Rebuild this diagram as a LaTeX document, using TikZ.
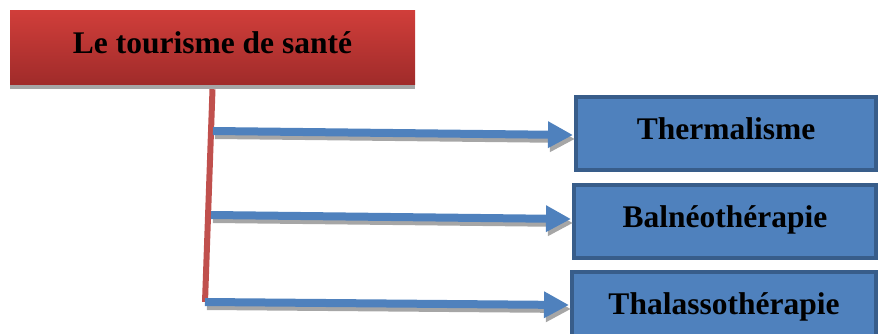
\documentclass[tikz,border=0pt]{standalone}
\usepackage{fontspec}
\setmainfont{Liberation Serif}
\usetikzlibrary{arrows.meta,shadows,calc}

\definecolor{redtop}{RGB}{208,62,58}
\definecolor{redbot}{RGB}{160,43,42}
\definecolor{trunkred}{RGB}{192,80,77}
\definecolor{bluefill}{RGB}{79,129,189}
\definecolor{blueline}{RGB}{56,93,138}
\definecolor{shadowgray}{RGB}{166,166,166}

\begin{document}
\begin{tikzpicture}[x=1pt,y=1pt,
    every node/.style={font=\bfseries\fontsize{31.5}{36}\selectfont,text height=22pt,text depth=10pt},
    topbox/.style={rectangle,inner sep=0pt,minimum width=405pt,minimum height=73pt,
      top color=redtop,bottom color=redbot,
      drop shadow={shadow xshift=0pt,shadow yshift=-5pt,fill=shadowgray,opacity=1}},
    kindbox/.style={rectangle,draw=blueline,line width=4pt,fill=bluefill,inner sep=0pt,
      minimum height=73pt},
    link/.style={line width=8pt,-{Triangle[length=25pt,width=25pt]}}]
  \useasboundingbox (0,0) rectangle (880,333);

  \node[topbox] (sante) at (212.5,285.5) {Le tourisme de santé};

  \node[kindbox,minimum width=300pt] (therm) at (726,199.5) {Thermalisme};
  \node[kindbox,minimum width=302pt] (balneo) at (725,112) {Balnéothérapie};
  \node[kindbox,minimum width=304pt] (thalasso) at (724,24.5) {Thalassothérapie};

  % points on the trunk
  \coordinate (c1) at (213,202);
  \coordinate (c2) at (211,118);
  \coordinate (c3) at (205,31);

  \draw[trunkred,line width=6pt] (sante.south) ++(0,-5) -- (c3);

  % shadows first, then the blue arrows
  \draw[link,color=shadowgray] ($(c1)+(2,-4)$) -- ($(therm.west)+(1,-5.5)$);
  \draw[link,color=shadowgray] ($(c2)+(2,-4)$) -- ($(balneo.west)+(1,-2)$);
  \draw[link,color=shadowgray] ($(c3)+(2,-4)$) -- ($(thalasso.west)+(1,-0.5)$);
  \draw[link,color=bluefill] (c1) -- ($(therm.west)+(-1,-1.5)$);
  \draw[link,color=bluefill] (c2) -- ($(balneo.west)+(-1,2)$);
  \draw[link,color=bluefill] (c3) -- ($(thalasso.west)+(-1,3.5)$);
\end{tikzpicture}
\end{document}
